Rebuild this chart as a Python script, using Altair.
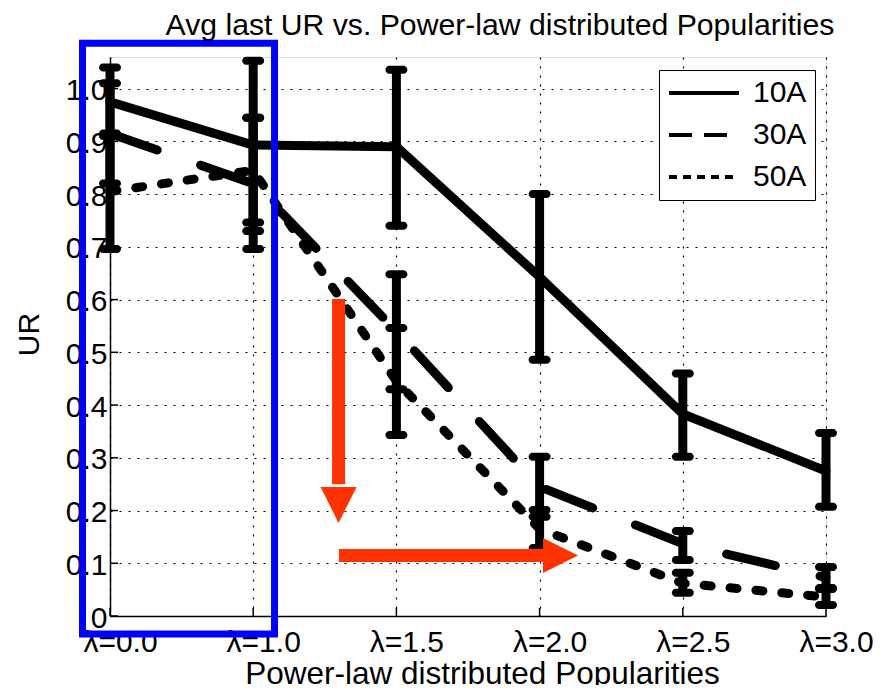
import json
import altair as alt
import pandas as pd

F = "Liberation Sans"

# ---- data ----
lam_labels = ["λ=0.0", "λ=1.0", "λ=1.5", "λ=2.0", "λ=2.5", "λ=3.0"]
lam_index = [0, 1, 2, 3, 4, 5]
series = ["10A", "30A", "50A"]

ur_10A = [0.975, 0.893, 0.890, 0.643, 0.383, 0.275]
lo_10A = [0.910, 0.730, 0.740, 0.486, 0.302, 0.207]
hi_10A = [1.040, 1.053, 1.036, 0.800, 0.460, 0.347]

ur_30A = [0.915, 0.820, 0.540, 0.245, 0.137, 0.073]
lo_30A = [0.820, 0.696, 0.430, 0.188, 0.106, 0.053]
hi_30A = [1.010, 0.945, 0.648, 0.302, 0.161, 0.093]

ur_50A = [0.805, 0.845, 0.445, 0.165, 0.062, 0.036]
lo_50A = [0.696, 0.746, 0.343, 0.129, 0.044, 0.021]
hi_50A = [0.915, 0.945, 0.546, 0.201, 0.082, 0.051]

y_ticks = [0.0, 0.1, 0.2, 0.3, 0.4, 0.5, 0.6, 0.7, 0.8, 0.9, 1.0]

# annotation geometry in data units (x = category index, y = UR)
blue_box = {"x": -0.192, "x2": 1.149, "y": -0.034, "y2": 1.086}
down_arrow = {"x": 1.596, "y": 0.601, "y2": 0.25, "head_y": 0.2105}
right_arrow = {"y": 0.1147, "x": 1.599, "x2": 3.03, "head_x": 3.146}

rows = []
for s, ur, lo, hi in [("10A", ur_10A, lo_10A, hi_10A),
                      ("30A", ur_30A, lo_30A, hi_30A),
                      ("50A", ur_50A, lo_50A, hi_50A)]:
    for i, u, l, h in zip(lam_index, ur, lo, hi):
        rows.append({"series": s, "i": i, "ur": u, "lo": l, "hi": h})
df = pd.DataFrame(rows)

label_expr = json.dumps(lam_labels, ensure_ascii=False) + "[datum.value]"

xs = alt.Scale(domain=[0, 5], nice=False, zero=False)
ys = alt.Scale(domain=[0, 1.06], nice=False, zero=False)

xaxis = alt.Axis(values=lam_index, labelExpr=label_expr,
                 title="Power-law distributed Popularities",
                 grid=True, gridColor="black", gridDash=[2, 7], gridWidth=1.2,
                 domainColor="black", domainWidth=1.5, ticks=True, tickSize=0,
                 labelFont=F, labelFontSize=30, labelColor="black",
                 labelBaseline="alphabetic", labelPadding=35, labelOffset=10,
                 labelAlign="center", labelFlush=False, labelOverlap=False,
                 titleFont=F, titleFontSize=31.5, titleFontWeight="normal",
                 titleColor="black", titleBaseline="alphabetic",
                 titleX=372, titleY=67)
yaxis = alt.Axis(values=y_ticks,
                 labelExpr="datum.value == 0 ? '0' : format(datum.value, '.1f')",
                 title="UR",
                 grid=True, gridColor="black", gridDash=[2, 7], gridWidth=1.2,
                 domainColor="black", domainWidth=1.5, ticks=True, tickSize=0,
                 labelFont=F, labelFontSize=30, labelColor="black",
                 labelBaseline="middle", labelPadding=3, labelOffset=2,
                 labelFlush=False, labelOverlap=False,
                 titleFont=F, titleFontSize=30, titleFontWeight="normal",
                 titleColor="black", titleAngle=270, titleBaseline="alphabetic",
                 titleAlign="center", titleX=-72, titleY=277)


def X(field):
    return alt.X(field, type="quantitative", scale=xs, axis=xaxis)


def Y(field):
    return alt.Y(field, type="quantitative", scale=ys, axis=yaxis)


base = alt.Chart(df)

legend_layer = base.transform_filter("false").mark_line(
    color="black", strokeWidth=4
).encode(
    x=X("i"), y=Y("ur"),
    strokeDash=alt.StrokeDash(
        "series:N",
        scale=alt.Scale(domain=series, range=[[1, 0], [23, 12], [8, 6]]),
        legend=alt.Legend(title=None, orient="none", legendX=549, legendY=13,
                          padding=8, strokeColor="black", fillColor="white",
                          symbolType="stroke", symbolSize=4900,
                          symbolStrokeWidth=4, symbolStrokeColor="black",
                          symbolOffset=0, labelFont=F, labelFontSize=30,
                          labelColor="black", labelOffset=12,
                          clipHeight=30, rowPadding=12, labelLimit=200),
    ),
)

line10 = base.transform_filter(alt.datum.series == "10A").mark_line(
    color="black", strokeWidth=9, strokeCap="round", strokeJoin="round"
).encode(x=X("i"), y=Y("ur"))
line30 = base.transform_filter(alt.datum.series == "30A").mark_line(
    color="black", strokeWidth=9, strokeCap="round", strokeJoin="round",
    strokeDash=[50, 46]
).encode(x=X("i"), y=Y("ur"))
line50 = base.transform_filter(alt.datum.series == "50A").mark_line(
    color="black", strokeWidth=9, strokeCap="round", strokeJoin="round",
    strokeDash=[7, 19]
).encode(x=X("i"), y=Y("ur"))

err = base.mark_rule(color="black", strokeWidth=9).encode(
    x=X("i"), y=Y("lo"), y2="hi")
cap_lo = base.mark_tick(orient="horizontal", size=22, thickness=8,
                        cornerRadius=4, color="black", opacity=1).encode(
    x=X("i"), y=Y("lo"))
cap_hi = base.mark_tick(orient="horizontal", size=22, thickness=8,
                        cornerRadius=4, color="black", opacity=1).encode(
    x=X("i"), y=Y("hi"))

ytick_df = pd.DataFrame({"v": y_ticks})
xtick_df = pd.DataFrame({"i": lam_index})
yticks_in = alt.Chart(ytick_df).mark_rule(color="black", strokeWidth=1.5).encode(
    y=Y("v"), x=alt.value(0), x2=alt.value(8))
xticks_in = alt.Chart(xtick_df).mark_rule(color="black", strokeWidth=1.5).encode(
    x=X("i"), y=alt.value(559), y2=alt.value(551))

ORANGE = "#FF3300"
da = pd.DataFrame([down_arrow])
ra = pd.DataFrame([right_arrow])
down_shaft = alt.Chart(da).mark_rule(color=ORANGE, strokeWidth=13).encode(
    x=X("x"), y=Y("y"), y2="y2")
down_head = alt.Chart(da).mark_point(
    shape="M-1,-1L1,-1L0,1Z", filled=True, size=1296, color=ORANGE, opacity=1
).encode(x=X("x"), y=Y("head_y"))
right_shaft = alt.Chart(ra).mark_rule(color=ORANGE, strokeWidth=13).encode(
    x=X("x"), x2="x2", y=Y("y"))
right_head = alt.Chart(ra).mark_point(
    shape="M-1,-1L1,0L-1,1Z", filled=True, size=1225, color=ORANGE, opacity=1
).encode(x=X("head_x"), y=Y("y"))

box = alt.Chart(pd.DataFrame([blue_box])).mark_rect(
    filled=False, color="#0000FF", strokeWidth=7
).encode(x=X("x"), x2="x2", y=Y("y"), y2="y2")

chart = alt.layer(
    legend_layer, line10, line30, line50, err, cap_lo, cap_hi,
    yticks_in, xticks_in, down_shaft, down_head, right_shaft, right_head, box
).properties(
    width=716, height=559,
    padding={"left": 102, "top": 49, "right": 49, "bottom": 69},
    autosize=alt.AutoSizeParams(type="none"),
    title=alt.TitleParams(
        text="Avg last UR vs. Power-law distributed Popularities",
        font=F, fontSize=30.2, fontWeight="normal", color="black",
        anchor="middle", dx=32, offset=18, dy=19),
).configure_view(strokeWidth=0).configure_legend(strokeWidth=2).configure(
    background="white")

chart.save("out.html", embed_options={"renderer": "svg", "actions": False})
